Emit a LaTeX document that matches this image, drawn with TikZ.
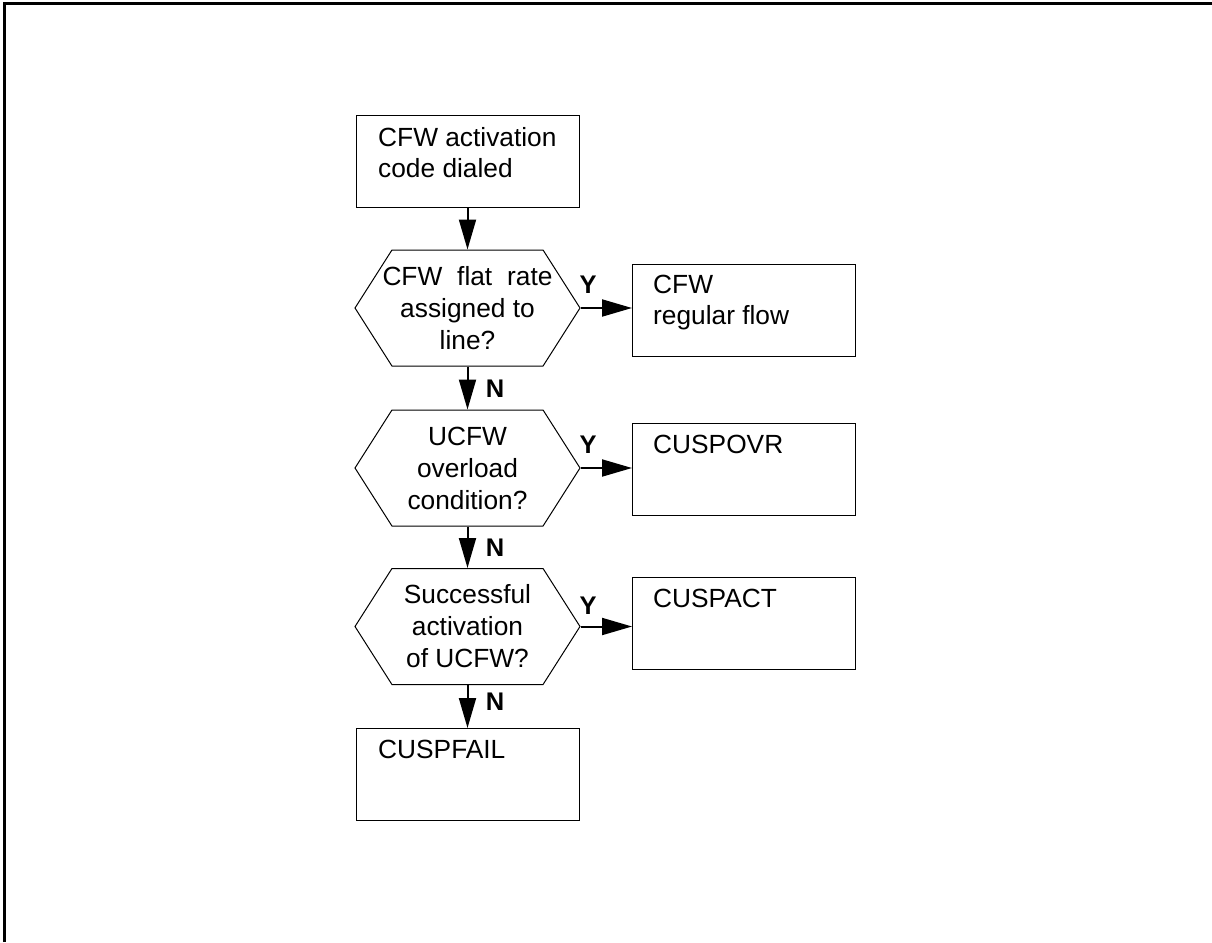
\documentclass[tikz,border=0pt]{standalone}
\usepackage{fontspec}
\setmainfont{Liberation Sans}
\usetikzlibrary{shapes.symbols,arrows.meta}
\begin{document}
\begin{tikzpicture}[x=1pt,y=-1pt,
  box/.style={draw, line width=1pt, minimum width=223pt, minimum height=92pt, anchor=north west, inner sep=0pt},
  txt/.style={anchor=base west, inner sep=0pt, font=\fontsize{26.3}{31.5}\selectfont},
  hex/.style={draw, line width=1pt, signal, signal to=east and west, signal pointer angle=115, minimum width=225pt, minimum height=116pt, inner sep=0pt, align=center, font=\fontsize{26.3}{32}\selectfont},
  arr/.style={line width=2pt, -{Triangle[length=30pt,width=17pt]}},
  lab/.style={font=\fontsize{25.5}{28}\selectfont\bfseries, anchor=base, inner sep=0pt}]
\useasboundingbox (0,0) rectangle (1212,942);
\coordinate (fa) at (4.7,942);
\coordinate (fb) at (4.7,3.8);
\coordinate (fc) at (1212,3.8);
\draw[line width=3pt] (fa) -- (fb) -- (fc);

\node[box] (b1) at (356,115) {};
\node[txt] (t1) at (378,146) {CFW activation};
\node[txt] (t1b) at (378,177) {code dialed};

\node[hex] (h1) at (467.5,308) {\makebox[140pt][c]{\makebox[170pt][s]{CFW flat rate}}\\assigned to\\line?};
\node[box] (b2) at (632,264) {};
\node[txt] (t2) at (653,293) {CFW};
\node[txt] (t2b) at (653,324) {regular flow};

\node[hex] (h2) at (467.5,468) {UCFW\\overload\\condition?};
\node[box] (b3) at (632,423) {};
\node[txt] (t3) at (653,453) {CUSPOVR};

\node[hex] (h3) at (467.5,626.5) {Successful\\activation\\of UCFW?};
\node[box] (b4) at (632,577) {};
\node[txt] (t4) at (653,607) {CUSPACT};

\node[box] (b5) at (356,728) {};
\node[txt] (t5) at (378,758) {CUSPFAIL};

\draw[arr] (b1.south -| h1.north) -- (h1.north);
\draw[arr] (h1.south) -- (h2.north);
\draw[arr] (h2.south) -- (h3.north);
\draw[arr] (h3.south) -- (h3.south |- b5.north);
\draw[arr] (h1.east) -- (h1.east -| b2.west);
\draw[arr] (h2.east) -- (h2.east -| b3.west);
\draw[arr] (h3.east) -- (h3.east -| b4.west);

\node[lab] (y1) at (588,293) {Y};
\node[lab] (y2) at (588,453) {Y};
\node[lab] (y3) at (588,614) {Y};
\node[lab] (n1) at (495,397) {N};
\node[lab] (n2) at (495,556) {N};
\node[lab] (n3) at (495,710) {N};
\end{tikzpicture}
\end{document}
